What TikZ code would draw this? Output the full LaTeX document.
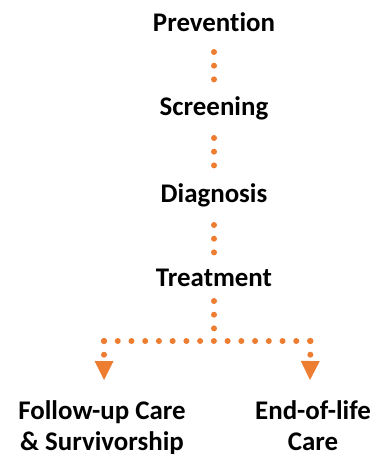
\documentclass[tikz,border=0pt]{standalone}
\usepackage{fontspec}
\setmainfont[Ligatures={NoCommon}]{Carlito}
\usetikzlibrary{arrows.meta,calc}
\definecolor{orng}{HTML}{ED7D31}
\tikzset{
  lbl/.style={font=\fontsize{27}{31}\selectfont\bfseries, inner sep=0pt, anchor=base, align=center},
  dotline/.style={draw=orng, line width=6bp, line cap=round, dash pattern=on 0bp off 13.7bp},
  tip/.style={-{Triangle[length=19bp,width=19bp,line width=0bp]}, orng}
}
\begin{document}
\begin{tikzpicture}[x=1bp,y=-1bp]
\useasboundingbox (0,0) rectangle (375,454);
\node[lbl] (prev) at (214,32) {Prevention};
\node[lbl] (scr) at (214,116) {Screening};
\node[lbl] (dia) at (214,203) {Diagnosis};
\node[lbl] (trt) at (214,286) {Treatment};
\node[lbl] (fol) at (102,450) {Follow-up Care\\\& Survivorship};
\node[lbl] (end) at (313,450) {End-of-life\\Care};
\coordinate (j) at (214,342);
\coordinate (jl) at (104,341);
\coordinate (jr) at (310.5,341);
\coordinate (tl) at (104,380);
\coordinate (tr) at (310,380);
\draw[dotline] ($(prev.base)+(0,20)$) -- ($(scr.base)+(0,-35.5)$);
\draw[dotline] ($(scr.base)+(0,22)$) -- ($(dia.base)+(0,-35.5)$);
\draw[dotline] ($(dia.base)+(0,22)$) -- ($(trt.base)+(0,-31.5)$);
\draw[dotline] ($(trt.base)+(0,15)$) -- (j);
\draw[dotline, dash pattern=on 0bp off 13.733bp] (jl) -- (jr);
\draw[dotline, tip] (jl) -- (tl);
\draw[dotline, tip] (jr) -- (tr);
\end{tikzpicture}
\end{document}
